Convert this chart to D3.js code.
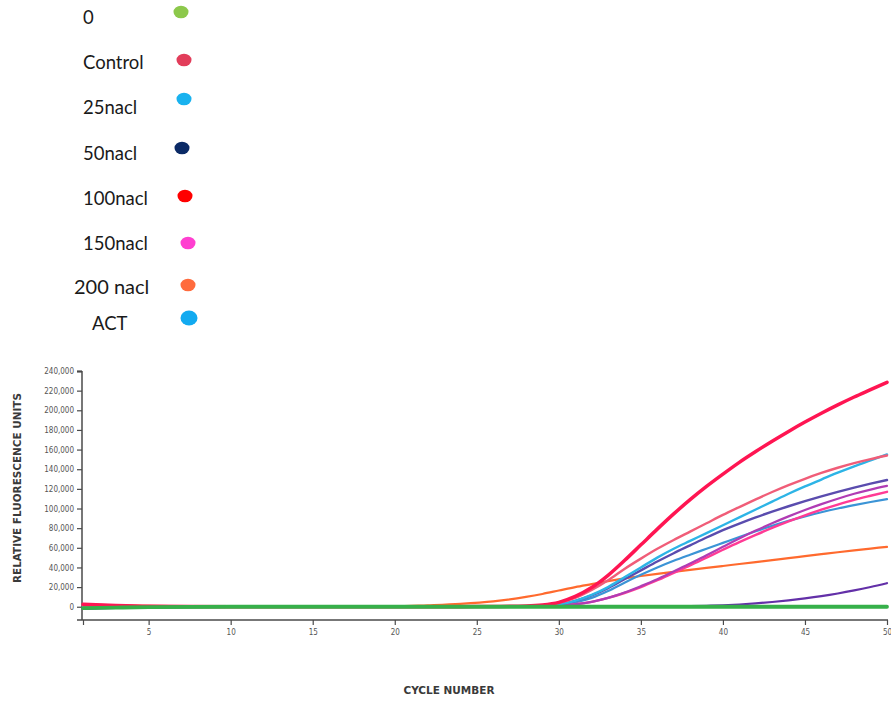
<!DOCTYPE html>
<html>
<head>
<meta charset="utf-8">
<script src="https://cdn.jsdelivr.net/npm/d3@7"></script>
<style>
  html, body { margin: 0; padding: 0; background: #fff; }
  svg { display: block; }
  .tick text { font-family: "DejaVu Sans Condensed", "DejaVu Sans", sans-serif; font-stretch: condensed; }
</style>
</head>
<body>
<svg id="chart" width="891" height="702"></svg>
<script>
// Legend entries (sample names and their marker colours)
const legendNames  = ["0", "Control", "25nacl", "50nacl", "100nacl", "150nacl", "200 nacl", "ACT"];
const legendColors = ["#8cc84b", "#e23d5a", "#19b2ef", "#0b2a66", "#ff0000", "#ff3fd0", "#ff6b3d", "#12aaf0"];

// Amplification cycles at which fluorescence was read
const cycles = [1, 3, 5, 10, 15, 20, 22, 24, 26, 28, 29, 30, 31, 32, 33, 34, 35, 36, 37, 38, 39, 40, 41, 42, 43, 44, 45, 46, 47, 48, 49, 50];

// Relative fluorescence units per curve
const rfuCrimson = [2500, 1200, 400, 0, 0, 0, 0, 100, 300, 800, 1800, 4500, 10500, 19500, 32000, 47000, 63000, 79000, 94500, 109000, 122500, 135000, 147000, 158000, 168500, 178500, 188000, 197000, 205500, 213500, 221000, 228500];
const rfuSalmon  = [1500, 800, 300, 0, 0, 0, 0, 50, 150, 500, 1500, 4000, 9000, 17000, 27000, 38500, 49000, 59000, 68000, 76500, 85000, 93500, 101500, 109300, 116800, 123800, 130300, 136200, 141500, 146200, 150300, 154000];
const rfuSky     = [-1000, -600, -300, 0, 0, 0, 0, 50, 150, 400, 1000, 2500, 6000, 12000, 20000, 30000, 40000, 50000, 59000, 67000, 75000, 83000, 91000, 99000, 107000, 115000, 122500, 129500, 136500, 143000, 149000, 155000];
const rfuIndigo  = [-2000, -1200, -500, 0, 0, 0, 0, 50, 150, 350, 800, 2500, 6000, 11500, 19000, 28000, 37000, 46000, 54500, 62500, 70500, 78000, 84700, 91000, 96800, 102300, 107500, 112400, 117000, 121300, 125300, 129000];
const rfuSteel   = [-1500, -900, -400, 0, 0, 0, 0, 50, 100, 300, 600, 1800, 4500, 9000, 16000, 24500, 32500, 40000, 46800, 53000, 59000, 65000, 71000, 76800, 82300, 87400, 92000, 96200, 100000, 103400, 106600, 109500];
const rfuOrchid  = [1000, 500, 200, 0, 0, 0, 0, 50, 100, 200, 300, 1000, 2500, 5000, 9000, 14500, 21000, 28000, 36000, 44000, 52500, 61000, 69500, 77500, 85000, 92000, 98500, 104500, 110000, 115000, 119300, 123000];
const rfuPink    = [1500, 800, 300, 0, 0, 0, 0, 50, 100, 200, 300, 1000, 2500, 5000, 9000, 14000, 20000, 27000, 34500, 42000, 50000, 58000, 65800, 73200, 80200, 86800, 93000, 98800, 104000, 108800, 113000, 117000];
const rfuOrange  = [2500, 1500, 800, 0, 0, 300, 1500, 3000, 5500, 10000, 13000, 16500, 20000, 23000, 26000, 28800, 31300, 33500, 35500, 37500, 39500, 41500, 43500, 45500, 47500, 49500, 51500, 53500, 55500, 57400, 59200, 61000];
const rfuViolet  = [-1500, -1000, -500, 0, 0, 0, 0, 0, 0, 0, 0, 0, 0, 0, 0, 0, 0, 200, 400, 700, 1000, 1500, 2300, 3400, 4800, 6500, 8500, 10800, 13500, 16600, 20100, 24000];
const rfuTan     = [600, 600, 600, 600, 600, 600, 600, 600, 600, 600, 600, 600, 600, 600, 600, 600, 600, 600, 600, 600, 600, 600, 600, 600, 600, 600, 600, 600, 600, 600, 600, 600];
const rfuGreen   = [-1500, -900, -400, 0, 0, 0, 0, 0, 0, 0, 0, 0, 0, 0, 0, 0, 0, 0, 0, 0, 0, 0, 0, 0, 0, 0, 0, 0, 0, 0, 0, 0];

// Axis ticks
const xTicks = [5, 10, 15, 20, 25, 30, 35, 40, 45, 50];
const yTicks = [0, 20000, 40000, 60000, 80000, 100000, 120000, 140000, 160000, 180000, 200000, 220000, 240000];

const curves = [
  { values: rfuTan,     color: "#f2b27a", width: 1.5 },
  { values: rfuOrange,  color: "#ff6a2e", width: 2.2 },
  { values: rfuViolet,  color: "#6330a8", width: 2.2 },
  { values: rfuSteel,   color: "#3b94d6", width: 2.2 },
  { values: rfuPink,    color: "#ff3b95", width: 2.4 },
  { values: rfuOrchid,  color: "#b03cb4", width: 2.2 },
  { values: rfuIndigo,  color: "#5a4cae", width: 2.4 },
  { values: rfuSky,     color: "#2db4e6", width: 2.4 },
  { values: rfuSalmon,  color: "#f05d78", width: 2.4 },
  { values: rfuCrimson, color: "#ff1552", width: 3.5 },
  { values: rfuGreen,   color: "#36b04a", width: 3.8 }
];

const svg = d3.select("#chart");

// ---- legend ----
const legendTextPos = [[83, 24], [83, 69], [83, 114], [83, 160], [83, 205], [83, 250], [74, 294], [92, 330]];
const legendDotPos  = [[181, 12], [184, 60], [184, 99], [182, 148], [185, 196], [188, 243], [188, 285], [189, 318]];
const legend = svg.append("g").attr("class", "legend");
legendNames.forEach((name, i) => {
  legend.append("text")
    .attr("x", legendTextPos[i][0])
    .attr("y", legendTextPos[i][1])
    .attr("font-family", "Lato, 'Open Sans', sans-serif")
    .attr("font-size", i === 6 ? 20 : 18.5)
    .attr("fill", "#1a1a1a")
    .text(name);
  legend.append("ellipse")
    .attr("cx", legendDotPos[i][0])
    .attr("cy", legendDotPos[i][1])
    .attr("rx", i === 7 ? 8.5 : 7.5)
    .attr("ry", i === 7 ? 7.5 : 6.3)
    .attr("fill", legendColors[i]);
});

// ---- scales ----
const x = d3.scaleLinear().domain([1, 50]).range([83, 887]);
const y = d3.scaleLinear().domain([-13500, 240000]).range([620, 371]);

// ---- axes ----
const axisColor = "#4a4a4a";
const yAxis = svg.append("g")
  .attr("transform", "translate(82,0)")
  .call(d3.axisLeft(y).tickValues(yTicks).tickFormat(d3.format(",")).tickSize(5).tickSizeOuter(0).tickPadding(3));
yAxis.select(".domain").remove();
yAxis.selectAll(".tick line").attr("stroke", axisColor).attr("stroke-width", 1.2);
yAxis.selectAll(".tick text").attr("font-size", 8).attr("fill", "#555");
yAxis.select(".tick:last-of-type line").attr("stroke-width", 2.2);

svg.append("line")
  .attr("x1", 82).attr("x2", 82)
  .attr("y1", y(240000)).attr("y2", 620)
  .attr("stroke", axisColor).attr("stroke-width", 1.5);

const xAxis = svg.append("g")
  .attr("transform", "translate(0,620)")
  .call(d3.axisBottom(x).tickValues([1].concat(xTicks)).tickFormat(d => d === 1 ? "" : d).tickSize(5).tickSizeOuter(0).tickPadding(4));
xAxis.select(".domain").remove();
xAxis.selectAll(".tick line").attr("stroke", axisColor).attr("stroke-width", 1.2);
xAxis.selectAll(".tick text").attr("font-size", 8).attr("fill", "#555");

svg.append("line")
  .attr("x1", 77).attr("x2", 888)
  .attr("y1", 620).attr("y2", 620)
  .attr("stroke", axisColor).attr("stroke-width", 1.5);

// ---- axis titles ----
svg.append("text")
  .attr("transform", "translate(21,488) rotate(-90)")
  .attr("text-anchor", "middle")
  .attr("font-family", "'DejaVu Sans Condensed', 'DejaVu Sans', sans-serif")
  .attr("font-weight", "bold")
  .attr("font-size", 10)
  .attr("fill", "#3a3a3a")
  .attr("textLength", 190)
  .attr("lengthAdjust", "spacingAndGlyphs")
  .text("RELATIVE FLUORESCENCE UNITS");

svg.append("text")
  .attr("x", 449).attr("y", 694)
  .attr("text-anchor", "middle")
  .attr("font-family", "'DejaVu Sans Condensed', 'DejaVu Sans', sans-serif")
  .attr("font-weight", "bold")
  .attr("font-size", 11)
  .attr("fill", "#3a3a3a")
  .attr("textLength", 91)
  .attr("lengthAdjust", "spacingAndGlyphs")
  .text("CYCLE NUMBER");

// ---- amplification curves ----
const line = d3.line()
  .x((d, i) => x(cycles[i]))
  .y(d => y(d))
  .curve(d3.curveMonotoneX);

svg.append("g").attr("class", "curves")
  .selectAll("path")
  .data(curves)
  .join("path")
  .attr("d", c => line(c.values))
  .attr("fill", "none")
  .attr("stroke", c => c.color)
  .attr("stroke-width", c => c.width)
  .attr("stroke-linecap", "round")
  .attr("stroke-linejoin", "round");
</script>
</body>
</html>
